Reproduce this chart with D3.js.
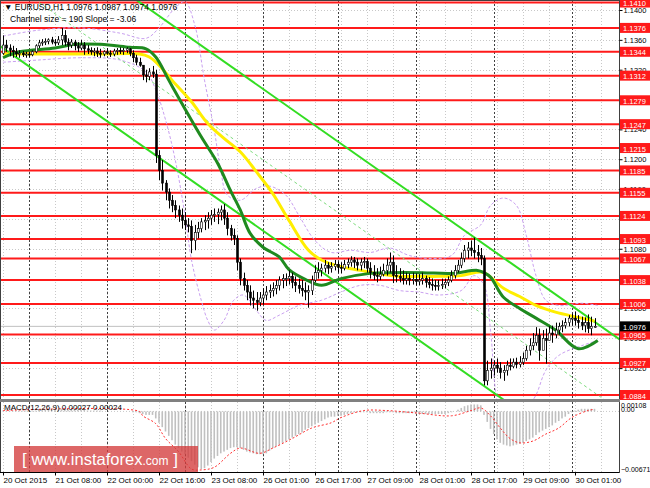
<!DOCTYPE html>
<html>
<head>
<meta charset="utf-8">
<script src="https://cdn.jsdelivr.net/npm/d3@7"></script>
<style>
  body { margin: 0; background: #fff; }
  svg text { font-family: "Liberation Sans", Arial, sans-serif; }
</style>
</head>
<body>
<svg id="chart"></svg>
<script>
// ---- data (prices in 1e-4 units) ----
const firstOpen = 11342;
const highs = [
  11366,11360,11354,11352,11349,11346,11345,11344,11344,11346,
  11354,11360,11361,11362,11362,11364,11361,11365,11376,11373,
  11362,11361,11360,11357,11360,11357,11353,11350,11349,11350,
  11348,11346,11349,11346,11348,11349,11350,11349,11350,11349,
  11346,11340,11336,11326,11320,11322,11325,11320,11212,11199,
  11172,11161,11152,11145,11138,11134,11129,11121,11118,11112,
  11116,11121,11125,11129,11132,11134,11134,11138,11140,11129,
  11112,11107,11098,11067,11048,11038,11031,11024,11022,11022,
  11027,11030,11032,11035,11038,11043,11046,11047,11051,11048,
  11043,11040,11038,11035,11031,11044,11058,11062,11060,11065,
  11062,11062,11065,11063,11062,11065,11067,11070,11069,11067,
  11067,11069,11067,11062,11058,11054,11056,11060,11067,11075,
  11071,11058,11054,11051,11048,11047,11048,11047,11046,11048,
  11044,11042,11040,11038,11038,11040,11040,11043,11051,11058,
  11065,11075,11085,11089,11091,11095,11085,11081,11071,10930,
  10933,10930,10933,10928,10924,10930,10933,10933,10934,10936,
  10941,10950,10960,10967,10975,10973,10971,10973,10976,10977,
  10981,10981,10984,10987,10991,10993,10996,10991,10989,10988,
  10992,10989,10987];
const lows = [
  11340,11344,11338,11336,11337,11336,11337,11336,11337,11338,
  11342,11349,11352,11353,11354,11354,11352,11353,11353,11352,
  11346,11349,11346,11344,11346,11340,11341,11340,11338,11337,
  11336,11338,11340,11337,11338,11340,11341,11340,11342,11338,
  11330,11326,11324,11306,11303,11306,11309,11195,11172,11158,
  11145,11134,11129,11121,11116,11107,11105,11102,11074,11078,
  11094,11102,11105,11107,11112,11116,11113,11118,11112,11098,
  11091,11085,11051,11031,11024,11011,11004,11000,10997,11003,
  11005,11011,11014,11016,11019,11024,11027,11030,11032,11027,
  11022,11020,11016,11011,11001,11018,11035,11040,11043,11048,
  11046,11048,11051,11048,11047,11051,11054,11056,11054,11051,
  11051,11054,11048,11040,11038,11035,11038,11043,11044,11048,
  11034,11035,11035,11032,11032,11031,11032,11031,11031,11032,
  11028,11027,11024,11024,11024,11026,11027,11030,11035,11040,
  11048,11054,11062,11067,11070,11067,11062,11058,10897,10897,
  10906,10910,10914,10906,10903,10910,10917,10920,10920,10921,
  10924,10930,10937,10944,10950,10930,10950,10926,10957,10954,
  10960,10965,10968,10973,10976,10977,10977,10973,10971,10968,
  10967,10964,10974];
const closes = [
  11353,11349,11346,11344,11341,11342,11340,11341,11340,11344,
  11352,11356,11357,11358,11360,11357,11356,11360,11366,11357,
  11353,11357,11352,11349,11353,11348,11346,11344,11345,11342,
  11341,11344,11342,11341,11345,11346,11345,11346,11348,11342,
  11336,11330,11326,11313,11311,11317,11314,11205,11185,11168,
  11156,11145,11138,11132,11125,11118,11112,11110,11091,11102,
  11107,11116,11118,11121,11125,11126,11129,11132,11121,11107,
  11098,11094,11062,11040,11031,11022,11014,11011,11008,11014,
  11018,11022,11024,11027,11031,11038,11040,11040,11043,11035,
  11031,11027,11024,11022,11024,11038,11048,11051,11054,11058,
  11054,11056,11059,11055,11054,11059,11062,11065,11062,11058,
  11062,11063,11054,11048,11044,11043,11046,11051,11058,11062,
  11044,11043,11040,11038,11040,11038,11039,11036,11038,11040,
  11035,11032,11031,11030,11031,11032,11035,11038,11044,11051,
  11058,11067,11078,11081,11078,11075,11071,11067,10903,10917,
  10920,10924,10920,10914,10917,10924,10922,10928,10925,10928,
  10933,10944,10950,10954,10964,10944,10960,10957,10967,10965,
  10971,10976,10977,10981,10987,10987,10984,10981,10977,10981,
  10973,10976,10976];

// support / resistance levels
const levels = [1.1410,1.1376,1.1344,1.1312,1.1279,1.1247,1.1215,1.1185,1.1155,
  1.1124,1.1093,1.1067,1.1038,1.1006,1.0965,1.0927,1.0884];
const lastPrice = 1.0976;
const priceTicks = [1.1400,1.1360,1.1320,1.1280,1.1240,1.1200,1.1160,1.1120,1.1080,1.1040,1.1000,1.0960,1.0920];

// time axis
const timeIdx = [0,16,32,48,64,80,96,112,128,144,160,176];
const timeLabels = ["20 Oct 2015","21 Oct 08:00","22 Oct 00:00","22 Oct 16:00","23 Oct 08:00",
  "26 Oct 01:00","26 Oct 17:00","27 Oct 09:00","28 Oct 01:00","28 Oct 17:00","29 Oct 09:00","30 Oct 01:00"];
const dayIdx = [8,32,56,80,103,127,151,175];

// moving averages (read at sample bars)
const yellowIdx = [0,14,30,42,45,48,52,58,63,68,73,78,83,88,94,98,104,110,116,122,128,134,141,145,148,154,159,164,170,177,182];
const yellowVal = [1.1341,1.1341,1.1341,1.1341,1.1337,1.1326,1.1306,1.1277,1.1248,1.1228,1.1210,1.1183,1.1154,1.1118,1.1078,1.1065,1.1056,1.1051,1.1046,1.1043,1.1043,1.1043,1.1044,1.1048,1.1048,1.1027,1.1016,1.1004,1.0995,1.0988,1.0983];
const greenIdx = [0,5,16,22,30,39,44,47,51,55,61,66,70,73,76,80,85,88,93,98,104,113,119,129,138,146,148,150,154,159,164,170,177,183];
const greenVal = [1.1336,1.1344,1.1349,1.1354,1.1354,1.1350,1.1348,1.1337,1.1306,1.1275,1.1230,1.1195,1.1158,1.1132,1.1101,1.1082,1.1069,1.1052,1.1039,1.1031,1.1040,1.1047,1.1048,1.1048,1.1047,1.1051,1.1048,1.1042,1.1015,1.1000,1.0987,1.0971,1.0946,1.0957];

// bollinger bands (read at sample bars)
const bbUpIdx = [0,11,24,36,44,48,53,56,59,62,65,67,69,73,78,82,87,91,96,101,107,113,119,125,131,138,142,147,150,154,158,161,164,167,171,178,183];
const bbUpVal = [1.1365,1.1373,1.1376,1.1369,1.1362,1.1376,1.1403,1.1411,1.1380,1.1306,1.1239,1.1185,1.1152,1.1145,1.1161,1.1164,1.1152,1.1125,1.1091,1.1075,1.1078,1.1075,1.1081,1.1071,1.1067,1.1071,1.1098,1.1112,1.1138,1.1148,1.1138,1.1098,1.1044,1.1011,1.1004,1.1007,1.1004];
const bbLoIdx = [0,11,24,36,44,47,50,53,56,58,61,63,65,68,71,74,78,81,85,91,98,104,110,116,122,128,134,141,145,148,150,152,155,158,161,164,167,171,178,183];
const bbLoVal = [1.1330,1.1333,1.1336,1.1333,1.1317,1.1293,1.1253,1.1199,1.1125,1.1065,1.1011,1.0984,1.0971,1.0984,1.1011,1.1018,1.0997,1.0984,1.0991,1.1004,1.1011,1.1022,1.1031,1.1031,1.1024,1.1022,1.1018,1.1024,1.1044,1.1031,1.0971,1.0877,1.0837,1.0837,1.0864,1.0884,1.0917,1.0937,1.0950,1.0957];

// regression channel
const chanFrom = -7, chanTo = 210;
const chanMid0 = 1.1444, chanSlope = -0.000306, chanHalf = 0.0095;

// MACD (1e-4 units)
const macdMain = [
  1,1,1,1,1,1,1,1,1,1, 1,2,2,2,2,2,2,2,3,3, 2,2,2,2,2,2,1,1,1,1, 1,0,0,0,0,0,0,0,0,0,
  -1,-1,-2,-3,-4,-4,-4,-8,-13,-18, -23,-28,-33,-38,-42,-46,-49,-53,-57,-61,
  -64,-66,-65,-62,-58,-54,-51,-48,-46,-44, -42,-41,-41,-42,-44,-46,-47,-48,-49,-49,
  -49,-48,-45,-42,-40,-38,-36,-34,-32,-30, -28,-26,-24,-21,-19,-17,-15,-13,-11,-9,
  -7,-6,-6,-5,-5,-4,-3,-2,-1,-1, -1,-1,-1,-2,-2,-2,-2,-2,-1,-1,
  -1,-2,-2,-2,-2,-2,-2,-3,-3,-3, -3,-3,-3,-3,-3,-3,-3,-2,-1,0,
  2,4,6,7,8,8,8,7,-4,-12, -20,-26,-32,-36,-38,-39,-40,-39,-38,-37,
  -36,-34,-32,-30,-27,-24,-22,-20,-18,-16, -13,-11,-8,-6,-3,-1,1,2,3,3, 3,3,3];
const sigIdx = [0,42,43,47,50,54,58,61,65,70,73,79,83,89,95,101,104,111,118,128,138,144,147,150,153,156,159,163,167,171,175,180,182];
const sigVal = [1,0,-5,-14,-31,-46,-66,-67,-64,-48,-42,-48,-42,-31,-19,-13,-7,1,1,-2,-5,1,4,-5,-19,-31,-36,-34,-26,-19,-7,1,2.4];

// ---- layout ----
const W = 650, H = 488;
const plotR = 619;
const mainTop = 0, mainBot = 399;
const macdTop = 402, macdBot = 472;

const svg = d3.select('#chart').attr('width', W).attr('height', H);

const x = d3.scaleLinear().domain([0, 176]).range([3, 575]);
const y = d3.scaleLinear().domain([1.0884, 1.1400]).range([395, 10]);
const ym = d3.scaleLinear().domain([-0.00671, 0.00108]).range([470, 402]);

const defs = svg.append('defs');
defs.append('clipPath').attr('id', 'clipMain')
  .append('rect').attr('x', 0).attr('y', mainTop).attr('width', plotR).attr('height', mainBot - mainTop);
defs.append('clipPath').attr('id', 'clipMacd')
  .append('rect').attr('x', 0).attr('y', macdTop).attr('width', plotR).attr('height', macdBot - macdTop);

const gMain = svg.append('g').attr('clip-path', 'url(#clipMain)');
const gMacd = svg.append('g').attr('clip-path', 'url(#clipMacd)');

// grid
const gridIdx = d3.range(0, 190, 8);
[[gMain, mainTop, mainBot], [gMacd, macdTop, macdBot]].forEach(([g, t, b]) => {
  g.selectAll(null).data(gridIdx).join('line')
    .attr('x1', d => Math.round(x(d)) + 0.5).attr('x2', d => Math.round(x(d)) + 0.5)
    .attr('y1', t).attr('y2', b)
    .attr('stroke', '#c8c8c8').attr('stroke-dasharray', '1,2');
  g.selectAll(null).data(dayIdx).join('line')
    .attr('x1', d => Math.round(x(d)) + 0.5).attr('x2', d => Math.round(x(d)) + 0.5)
    .attr('y1', t).attr('y2', b)
    .attr('stroke', '#404040').attr('stroke-dasharray', '2,2');
});
gMain.selectAll(null).data(priceTicks).join('line')
  .attr('x1', 0).attr('x2', plotR)
  .attr('y1', d => Math.round(y(d)) + 0.5).attr('y2', d => Math.round(y(d)) + 0.5)
  .attr('stroke', '#c8c8c8').attr('stroke-dasharray', '1,2');

// red levels
gMain.selectAll(null).data(levels).join('line')
  .attr('x1', 0).attr('x2', plotR)
  .attr('y1', d => y(d)).attr('y2', d => y(d))
  .attr('stroke', '#ff1a1a').attr('stroke-width', 2);

// ask line
gMain.append('line')
  .attr('x1', 0).attr('x2', plotR)
  .attr('y1', y(lastPrice)).attr('y2', y(lastPrice))
  .attr('stroke', '#c0c0c0').attr('stroke-width', 1);

// bollinger bands
const band = (idx, val) => idx.map((d, k) => [d, val[k]]);
const curve = d3.line().x(d => x(d[0])).y(d => y(d[1])).curve(d3.curveCatmullRom);
[[bbUpIdx, bbUpVal], [bbLoIdx, bbLoVal]].forEach(([idx, val]) => {
  gMain.append('path')
    .datum(band(idx, val))
    .attr('fill', 'none')
    .attr('stroke', '#c9a0f0')
    .attr('stroke-width', 1)
    .attr('stroke-dasharray', '3,2')
    .attr('d', curve);
});

// regression channel
[chanHalf, 0, -chanHalf].forEach(off => {
  gMain.append('line')
    .attr('x1', x(chanFrom)).attr('y1', y(chanMid0 + chanSlope * chanFrom + off))
    .attr('x2', x(chanTo)).attr('y2', y(chanMid0 + chanSlope * chanTo + off))
    .attr('stroke', off === 0 ? '#7ddc7d' : '#33dd22')
    .attr('stroke-width', off === 0 ? 1 : 2)
    .attr('stroke-dasharray', off === 0 ? '3,3' : null);
});

// moving averages
gMain.append('path')
  .datum(band(yellowIdx, yellowVal))
  .attr('fill', 'none').attr('stroke', '#ffee00').attr('stroke-width', 3)
  .attr('stroke-linejoin', 'round').attr('d', curve);
gMain.append('path')
  .datum(band(greenIdx, greenVal))
  .attr('fill', 'none').attr('stroke', '#1f8a1f').attr('stroke-width', 3)
  .attr('stroke-linejoin', 'round').attr('d', curve);

// candles
const bars = closes.map((c, i) => {
  const o = (i === 0 ? firstOpen : closes[i - 1]) / 10000;
  const cl = c / 10000;
  return { i, o, c: cl, h: Math.max(highs[i] / 10000, o, cl), l: Math.min(lows[i] / 10000, o, cl) };
});
const cg = gMain.append('g');
cg.selectAll(null).data(bars).join('line')
  .attr('x1', d => Math.round(x(d.i)) + 0.5).attr('x2', d => Math.round(x(d.i)) + 0.5)
  .attr('y1', d => y(d.h)).attr('y2', d => y(d.l))
  .attr('stroke', '#000').attr('stroke-width', 1);
cg.selectAll(null).data(bars).join('rect')
  .attr('x', d => Math.round(x(d.i)) - 0.5)
  .attr('y', d => y(Math.max(d.o, d.c)))
  .attr('width', 2)
  .attr('height', d => Math.max(1, y(Math.min(d.o, d.c)) - y(Math.max(d.o, d.c))))
  .attr('fill', d => d.c >= d.o ? '#fff' : '#000')
  .attr('stroke', '#000').attr('stroke-width', 0.6);

// MACD histogram + signal
gMacd.append('line')
  .attr('x1', 0).attr('x2', plotR).attr('y1', ym(0)).attr('y2', ym(0))
  .attr('stroke', '#c8c8c8').attr('stroke-dasharray', '1,2');
gMacd.selectAll(null).data(macdMain).join('rect')
  .attr('x', (d, i) => x(i) - 0.8)
  .attr('width', 1.6)
  .attr('y', d => ym(Math.max(0, d / 10000)))
  .attr('height', d => Math.abs(ym(d / 10000) - ym(0)))
  .attr('fill', '#c0c0c0');
gMacd.append('path')
  .datum(sigIdx.map((d, k) => [d, sigVal[k] / 10000]))
  .attr('fill', 'none').attr('stroke', '#ff3030').attr('stroke-width', 1)
  .attr('stroke-dasharray', '2,2')
  .attr('d', d3.line().x(d => x(d[0])).y(d => ym(d[1])).curve(d3.curveCatmullRom));

// frames
svg.append('rect').attr('x', 0.5).attr('y', 0.5).attr('width', plotR).attr('height', macdBot)
  .attr('fill', 'none').attr('stroke', '#404040');
svg.append('rect').attr('x', 0).attr('y', mainBot).attr('width', plotR + 1).attr('height', 3)
  .attr('fill', '#808080');

// price axis (labels fully hidden by a tag are left out)
const tagged = levels.concat([lastPrice]);
const shownTicks = priceTicks.filter(p => d3.min(tagged, l => Math.abs(y(l) - y(p))) > 3);
const yAxis = svg.append('g')
  .attr('transform', `translate(${plotR + 0.5},0)`)
  .call(d3.axisRight(y).tickValues(shownTicks).tickFormat(d3.format('.4f')).tickSize(3).tickSizeOuter(0));
yAxis.select('.domain').remove();
yAxis.selectAll('text').attr('font-size', 7.5).attr('x', 4).attr('fill', '#000');

// level tags
const tags = svg.append('g');
tags.selectAll(null).data(levels).join('rect')
  .attr('x', plotR + 1).attr('y', d => y(d) - 5).attr('width', W - plotR - 1).attr('height', 10)
  .attr('fill', '#ff1a1a');
tags.selectAll(null).data(levels).join('text')
  .attr('x', plotR + 4).attr('y', d => y(d) + 3.5)
  .attr('font-size', 7.5).attr('fill', '#fff')
  .text(d => d.toFixed(4));
tags.append('rect')
  .attr('x', plotR + 1).attr('y', y(lastPrice) - 5).attr('width', W - plotR - 1).attr('height', 10)
  .attr('fill', '#000');
tags.append('text')
  .attr('x', plotR + 4).attr('y', y(lastPrice) + 3.5)
  .attr('font-size', 7.5).attr('fill', '#fff')
  .text(lastPrice.toFixed(4));

// MACD axis labels
const macdTicks = [0.00108, 0, -0.00671];
svg.selectAll(null).data(macdTicks).join('text')
  .attr('x', plotR + 2)
  .attr('y', d => d === 0 ? ym(0) + 1 : d > 0 ? ym(d) + 6 : ym(d) + 2)
  .attr('font-size', 7).attr('fill', '#000')
  .text(d => d === 0 ? '0.00' : d3.format('.5f')(d));

// time axis
const xAxis = svg.append('g')
  .attr('transform', `translate(0,${macdBot + 0.5})`)
  .call(d3.axisBottom(x).tickValues(timeIdx).tickFormat((d, k) => timeLabels[k]).tickSize(3).tickSizeOuter(0));
xAxis.select('.domain').attr('d', `M0,0H${plotR}`);
xAxis.selectAll('text').attr('font-size', 8).attr('text-anchor', 'start').attr('dy', '0.6em').attr('fill', '#000');

// header texts
svg.append('text').attr('x', 4).attr('y', 10).attr('font-size', 8.5)
  .text('\u25BC EURUSD,H1  1.0976 1.0987 1.0974 1.0976');
svg.append('text').attr('x', 10).attr('y', 22).attr('font-size', 8.5)
  .text('Channel size = 190 Slope = -3.06');
svg.append('text').attr('x', 4).attr('y', 410).attr('font-size', 8)
  .text('MACD(12,26,9) 0.00027 0.00024');

// watermark
const wm = svg.append('g');
wm.append('rect').attr('x', 14).attr('y', 446).attr('width', 184).attr('height', 26)
  .attr('fill', '#d43c3c').attr('opacity', 0.78);
const wt = wm.append('text').attr('x', 22).attr('y', 465).attr('fill', '#fff');
wt.append('tspan').attr('font-size', 17).text('[ ');
wt.append('tspan').attr('font-size', 16.5).text('www.instaforex');
wt.append('tspan').attr('font-size', 12).text('.com');
wt.append('tspan').attr('font-size', 17).text(' ]');
</script>
</body>
</html>
